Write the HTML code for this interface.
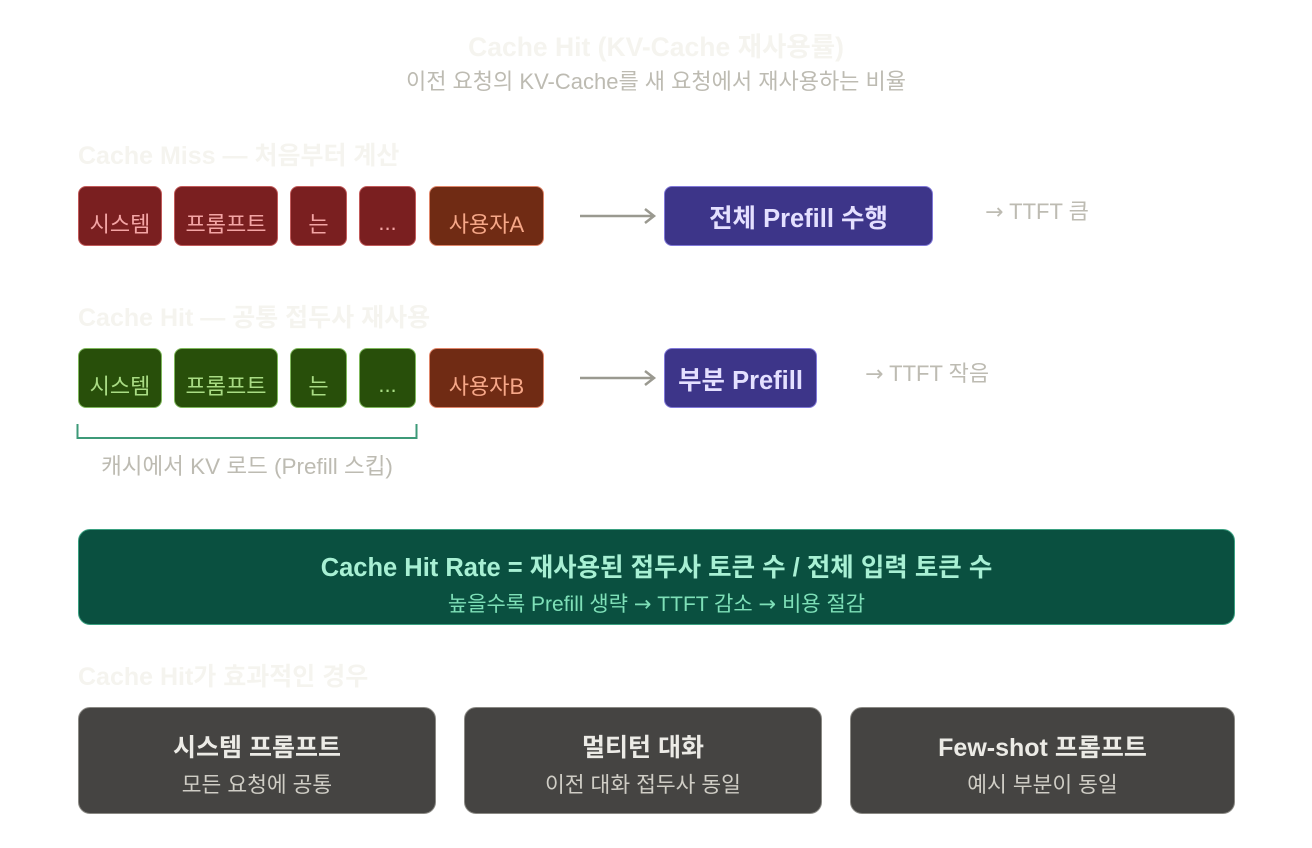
<!DOCTYPE html><html><head><meta charset="utf-8"><style>
body{margin:0;width:1312px;height:848px;background:#fff;position:relative;overflow:hidden;font-family:"Liberation Sans","Noto Sans CJK KR",sans-serif}
.a{position:absolute}
.t{position:absolute;white-space:nowrap}
.r{font-family:"DejaVu Sans",sans-serif}
.b{position:absolute;box-sizing:border-box;border-radius:8px;display:flex;align-items:center;justify-content:center;font-size:22px;padding-top:14px}
.m{background:#7a1f20;border:1.5px solid #c25a5a;color:#f4a5a5}
.u{background:#702b14;border:1.5px solid #e0866a;color:#f6a788}
.g{background:#284f0a;border:1.5px solid #7fb85c;color:#a9dc84}
.p{background:#3d3589;border:1.5px solid #8078d8;color:#e4e0ff;font-weight:bold;font-size:25.5px;padding-top:0}
.h{color:#f5f4ef;font-weight:bold;font-size:25px}
.c{position:absolute;box-sizing:border-box;background:#454442;border:1.5px solid #8a8984;border-radius:12px;text-align:center}
.c div:first-child{font-weight:bold;font-size:25px;color:#ecebe6;margin-top:20px}
.c div:last-child{font-size:21.5px;color:#cfcdc5;margin-top:4px}
</style></head><body>
<div class="t" style="left:0;width:1312px;text-align:center;top:25px;font-size:26.5px;font-weight:bold;color:#f5f4ef">Cache Hit (KV-Cache 재사용률)</div>
<div class="t" style="left:0;width:1312px;text-align:center;top:64px;font-size:22px;color:#bdbbb2">이전 요청의 KV-Cache를 새 요청에서 재사용하는 비율</div>
<div class="t h" style="left:78px;top:136px">Cache Miss — 처음부터 계산</div>
<div class="b m" style="left:78px;top:186px;width:84px;height:60px">시스템</div>
<div class="b m" style="left:174px;top:186px;width:104px;height:60px">프롬프트</div>
<div class="b m" style="left:290px;top:186px;width:57px;height:60px">는</div>
<div class="b m" style="left:359px;top:186px;width:57px;height:60px">...</div>
<div class="b u" style="left:429px;top:186px;width:115px;height:60px">사용자A</div>
<svg class="a" style="left:575px;top:200px" width="90" height="30"><path d="M5 16H78M70 9L79 16L70 23" stroke="#9a9990" stroke-width="2.5" fill="none"/></svg>
<div class="b p" style="left:664px;top:186px;width:269px;height:60px">전체 Prefill 수행</div>
<div class="t" style="left:985px;top:194px;font-size:22px;color:#bdbbb2"><span class="r">→</span> TTFT 큼</div>
<div class="t h" style="left:78px;top:298px">Cache Hit — 공통 접두사 재사용</div>
<div class="b g" style="left:78px;top:348px;width:84px;height:60px">시스템</div>
<div class="b g" style="left:174px;top:348px;width:104px;height:60px">프롬프트</div>
<div class="b g" style="left:290px;top:348px;width:57px;height:60px">는</div>
<div class="b g" style="left:359px;top:348px;width:57px;height:60px">...</div>
<div class="b u" style="left:429px;top:348px;width:115px;height:60px">사용자B</div>
<svg class="a" style="left:575px;top:362px" width="90" height="30"><path d="M5 16H78M70 9L79 16L70 23" stroke="#9a9990" stroke-width="2.5" fill="none"/></svg>
<div class="b p" style="left:664px;top:348px;width:153px;height:60px">부분 Prefill</div>
<div class="t" style="left:865px;top:356px;font-size:22px;color:#bdbbb2"><span class="r">→</span> TTFT 작음</div>
<svg class="a" style="left:76px;top:422px" width="344" height="20"><path d="M1.5 2V16H340.5V2" stroke="#3d9a78" stroke-width="2" fill="none"/></svg>
<div class="t" style="left:78px;width:338px;text-align:center;top:449px;font-size:22.5px;color:#bdbbb2">캐시에서 KV 로드 (Prefill 스킵)</div>
<div class="a" style="left:78px;top:529px;width:1157px;height:96px;box-sizing:border-box;background:#0a5040;border:1.5px solid #3aa080;border-radius:12px;text-align:center">
<div style="font-weight:bold;font-size:25.5px;color:#a8f0d4;margin-top:17px">Cache Hit Rate = 재사용된 접두사 토큰 수 / 전체 입력 토큰 수</div>
<div style="font-size:21px;color:#7ee0b8;margin-top:4px">높을수록 Prefill 생략 <span class="r">→</span> TTFT 감소 <span class="r">→</span> 비용 절감</div></div>
<div class="t h" style="left:78px;top:657px">Cache Hit가 효과적인 경우</div>
<div class="c" style="left:78px;top:707px;width:358px;height:107px"><div>시스템 프롬프트</div><div>모든 요청에 공통</div></div>
<div class="c" style="left:464px;top:707px;width:358px;height:107px"><div>멀티턴 대화</div><div>이전 대화 접두사 동일</div></div>
<div class="c" style="left:850px;top:707px;width:385px;height:107px"><div>Few-shot 프롬프트</div><div>예시 부분이 동일</div></div>
</body></html>
